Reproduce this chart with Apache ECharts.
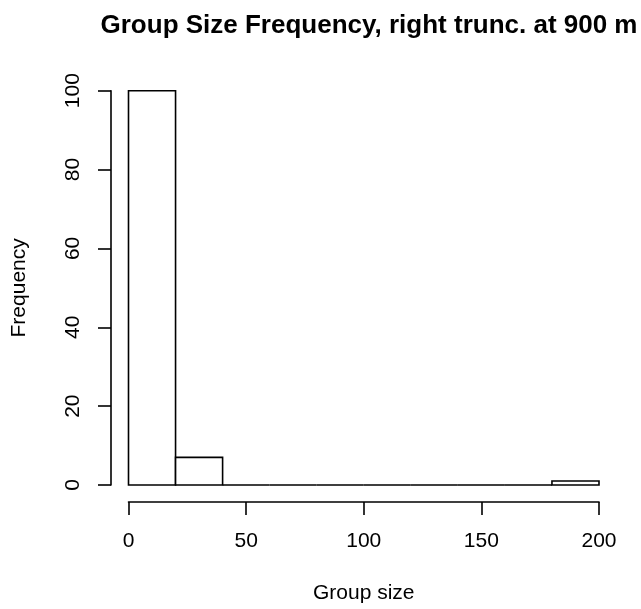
<!DOCTYPE html>
<html>
<head>
<meta charset="utf-8">
<script src="https://cdn.jsdelivr.net/npm/echarts@6/dist/echarts.min.js"></script>
<style>
  html, body { margin: 0; padding: 0; background: #fff; }
  #chart { width: 641px; height: 609px; }
</style>
</head>
<body>
<div id="chart"></div>
<script>
const titleText = 'Group Size Frequency, right trunc. at 900 m';
const xName = 'Group size';
const yName = 'Frequency';
const binStarts = [0, 20, 40, 60, 80, 100, 120, 140, 160, 180];
const binEnds = [20, 40, 60, 80, 100, 120, 140, 160, 180, 200];
const counts = [100, 7, 0, 0, 0, 0, 0, 0, 0, 1];
const xTicks = [0, 50, 100, 150, 200];
const yTicks = [0, 20, 40, 60, 80, 100];

const FONT = 'Liberation Sans, Arial, Helvetica, sans-serif';
const data = binStarts.map((s, i) => [s, binEnds[i], counts[i]]);

const chart = echarts.init(document.getElementById('chart'), null, { renderer: 'canvas' });
chart.setOption({
  animation: false,
  backgroundColor: '#ffffff',
  title: {
    text: titleText,
    left: 364,
    textAlign: 'center',
    top: 8,
    textStyle: { fontFamily: FONT, fontSize: 26, fontWeight: 'bold', color: '#000' }
  },
  grid: { left: 128.5, right: 42, top: 90.7, bottom: 123.3, containLabel: false },
  xAxis: {
    type: 'value',
    min: xTicks[0], max: xTicks[xTicks.length - 1], interval: 50,
    offset: 17,
    name: xName, nameLocation: 'middle', nameGap: 81,
    nameTextStyle: { fontFamily: FONT, fontSize: 21, color: '#000' },
    axisLine: { show: true, onZero: false, lineStyle: { color: '#000', width: 1.6 } },
    axisTick: { show: true, inside: false, length: 13, lineStyle: { color: '#000', width: 1.6 } },
    axisLabel: { margin: 29, fontFamily: FONT, fontSize: 21, color: '#000' },
    splitLine: { show: false }
  },
  yAxis: {
    type: 'value',
    min: yTicks[0], max: yTicks[yTicks.length - 1], interval: 20,
    offset: 17.5,
    name: yName, nameLocation: 'middle', nameGap: 81, nameRotate: 90,
    nameTextStyle: { fontFamily: FONT, fontSize: 21, color: '#000' },
    axisLine: { show: true, onZero: false, lineStyle: { color: '#000', width: 1.6 } },
    axisTick: { show: true, inside: false, length: 13, lineStyle: { color: '#000', width: 1.6 } },
    axisLabel: { rotate: 90, margin: 27, fontFamily: FONT, fontSize: 21, color: '#000' },
    splitLine: { show: false }
  },
  series: [{
    type: 'custom',
    clip: false,
    data: data,
    encode: { x: [0, 1], y: 2 },
    renderItem: function (params, api) {
      const p0 = api.coord([api.value(0), api.value(2)]);
      const p1 = api.coord([api.value(1), 0]);
      return {
        type: 'rect',
        shape: { x: p0[0], y: p0[1], width: p1[0] - p0[0], height: p1[1] - p0[1] },
        style: { fill: '#ffffff', stroke: '#000000', lineWidth: 1.6 }
      };
    }
  }]
});
</script>
</body>
</html>
